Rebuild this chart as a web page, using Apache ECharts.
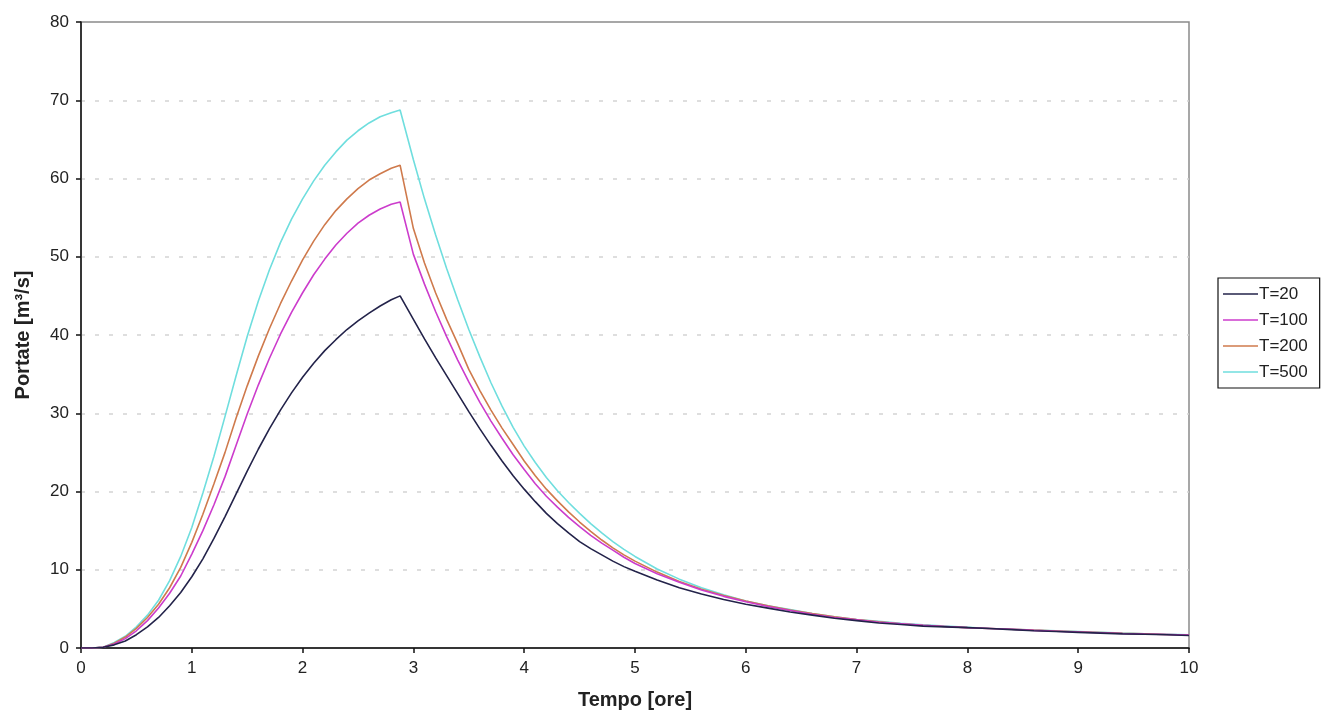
<!DOCTYPE html>
<html>
<head>
<meta charset="utf-8">
<title>Idrogrammi di piena</title>
<script src="https://cdn.jsdelivr.net/npm/echarts@6/dist/echarts.min.js"></script>
<style>
  html, body { margin: 0; padding: 0; background: #fff; }
  #chart { width: 1333px; height: 722px; }
</style>
</head>
<body>
<div id="chart"></div>
<script>
// Tempo [ore]
const times = [0,0.1,0.2,0.3,0.4,0.5,0.6,0.7,0.8,0.9,1.0,1.1,1.2,1.3,1.4,1.5,1.6,1.7,1.8,1.9,2.0,2.1,2.2,2.3,2.4,2.5,2.6,2.7,2.8,2.88,
  3.0,3.1,3.2,3.3,3.4,3.5,3.6,3.7,3.8,3.9,4.0,4.1,4.2,4.3,4.4,4.5,4.6,4.7,4.8,4.9,5.0,
  5.2,5.4,5.6,5.8,6.0,6.2,6.4,6.6,6.8,7.0,7.2,7.4,7.6,7.8,8.0,8.2,8.4,8.6,8.8,9.0,9.2,9.4,9.6,9.8,10];

// Portate [m3/s] per tempo di ritorno
const qT20 = [0,0,0.1,0.4,0.9,1.7,2.7,3.9,5.4,7.1,9.1,11.4,14.0,16.8,19.7,22.6,25.4,28.0,30.4,32.6,34.6,36.4,38.0,39.4,40.7,41.8,42.8,43.7,44.5,45.0,
  42.0,39.5,37.1,34.8,32.5,30.2,28.0,25.9,23.9,22.0,20.3,18.7,17.2,15.9,14.7,13.6,12.7,11.9,11.1,10.4,9.8,
  8.7,7.7,6.9,6.2,5.6,5.1,4.6,4.2,3.8,3.5,3.2,3.0,2.8,2.7,2.6,2.5,2.35,2.2,2.1,2.0,1.9,1.8,1.75,1.7,1.6];

const qT100 = [0,0,0.1,0.5,1.2,2.2,3.5,5.1,7.0,9.2,12.0,15.0,18.3,21.9,25.9,29.9,33.6,37.0,40.1,42.9,45.4,47.7,49.7,51.5,53.0,54.3,55.3,56.1,56.7,57.0,
  50.3,46.5,43.0,39.8,36.8,34.0,31.4,29.0,26.8,24.7,22.8,21.0,19.4,18.0,16.7,15.5,14.4,13.4,12.5,11.6,10.8,
  9.5,8.4,7.4,6.6,5.9,5.3,4.8,4.3,3.9,3.6,3.3,3.1,2.9,2.75,2.6,2.5,2.4,2.25,2.15,2.05,1.95,1.85,1.78,1.72,1.65];

const qT200 = [0,0,0.1,0.6,1.4,2.5,3.9,5.6,7.7,10.3,13.5,17.1,21.0,25.0,29.4,33.5,37.3,40.8,44.0,46.9,49.6,52.0,54.1,55.9,57.4,58.7,59.8,60.6,61.3,61.7,
  53.6,49.2,45.4,42.0,38.9,35.6,32.9,30.4,28.1,26.0,23.9,22.0,20.3,18.8,17.4,16.1,14.9,13.8,12.8,11.9,11.1,
  9.7,8.5,7.5,6.7,6.0,5.4,4.85,4.4,4.0,3.65,3.35,3.1,2.9,2.75,2.6,2.5,2.4,2.28,2.18,2.08,1.98,1.88,1.8,1.73,1.66];

const qT500 = [0,0,0.1,0.7,1.5,2.7,4.2,6.1,8.6,11.7,15.4,19.8,24.5,29.6,34.8,39.8,44.3,48.3,51.8,54.8,57.4,59.7,61.7,63.4,64.9,66.1,67.1,67.9,68.4,68.75,
  62.4,57.4,52.8,48.5,44.5,40.7,37.2,33.9,30.9,28.2,25.8,23.7,21.8,20.1,18.6,17.2,15.9,14.7,13.6,12.6,11.7,
  10.1,8.8,7.7,6.8,6.0,5.4,4.9,4.4,4.0,3.65,3.4,3.15,2.95,2.8,2.65,2.5,2.4,2.3,2.2,2.1,2.0,1.9,1.82,1.75,1.68];

const seriesNames = ['T=20', 'T=100', 'T=200', 'T=500'];
const seriesValues = [qT20, qT100, qT200, qT500];
const seriesColors = ['#23234a', '#cc3ccc', '#cf7a4c', '#6fdede'];

const FONT = "'Liberation Sans', Arial, sans-serif";

const chart = echarts.init(document.getElementById('chart'), null, { renderer: 'canvas' });

const series = seriesNames.map((name, i) => ({
  name: name,
  type: 'line',
  symbol: 'none',
  smooth: false,
  data: times.map((t, k) => [t, seriesValues[i][k]]),
  lineStyle: { color: seriesColors[i], width: 1.6 },
  itemStyle: { color: seriesColors[i] },
  z: 10 - i
}));

chart.setOption({
  backgroundColor: '#ffffff',
  animation: false,
  textStyle: { fontFamily: FONT },
  grid: {
    left: 81, right: 144, top: 22, bottom: 74,
    show: true, borderColor: '#8a8a8a', borderWidth: 1.5,
    backgroundColor: 'transparent'
  },
  legend: {
    orient: 'vertical',
    left: 1218, top: 278,
    data: seriesNames,
    icon: 'rect',
    itemWidth: 35, itemHeight: 1.6,
    itemGap: 8,
    padding: [7, 12, 7, 5],
    borderColor: '#111', borderWidth: 1.2,
    textStyle: { fontFamily: FONT, fontSize: 17, color: '#222', padding: [0, 0, 0, -4], lineHeight: 18 }
  },
  xAxis: {
    type: 'value',
    min: 0, max: 10, interval: 1,
    name: 'Tempo [ore]',
    nameLocation: 'middle',
    nameGap: 42,
    nameTextStyle: { fontFamily: FONT, fontSize: 20, fontWeight: 'bold', color: '#222' },
    axisLine: { show: true, onZero: false, lineStyle: { color: '#111', width: 1.5 } },
    axisTick: { show: true, inside: false, length: 5, lineStyle: { color: '#111', width: 1.5 } },
    axisLabel: { fontFamily: FONT, fontSize: 17, color: '#222', margin: 12 },
    splitLine: { show: false }
  },
  yAxis: {
    type: 'value',
    min: 0, max: 80, interval: 10,
    name: 'Portate [m³/s]',
    nameLocation: 'middle',
    nameGap: 48,
    nameTextStyle: { fontFamily: FONT, fontSize: 20, fontWeight: 'bold', color: '#222' },
    axisLine: { show: true, onZero: false, lineStyle: { color: '#111', width: 1.5 } },
    axisTick: { show: true, inside: false, length: 5, lineStyle: { color: '#111', width: 1.5 } },
    axisLabel: { fontFamily: FONT, fontSize: 17, color: '#222', margin: 12 },
    splitLine: {
      show: true, showMinLine: false, showMaxLine: false,
      lineStyle: { color: '#d4d4d4', type: [4, 10], width: 1.5 }
    }
  },
  series: series
});
</script>
</body>
</html>
